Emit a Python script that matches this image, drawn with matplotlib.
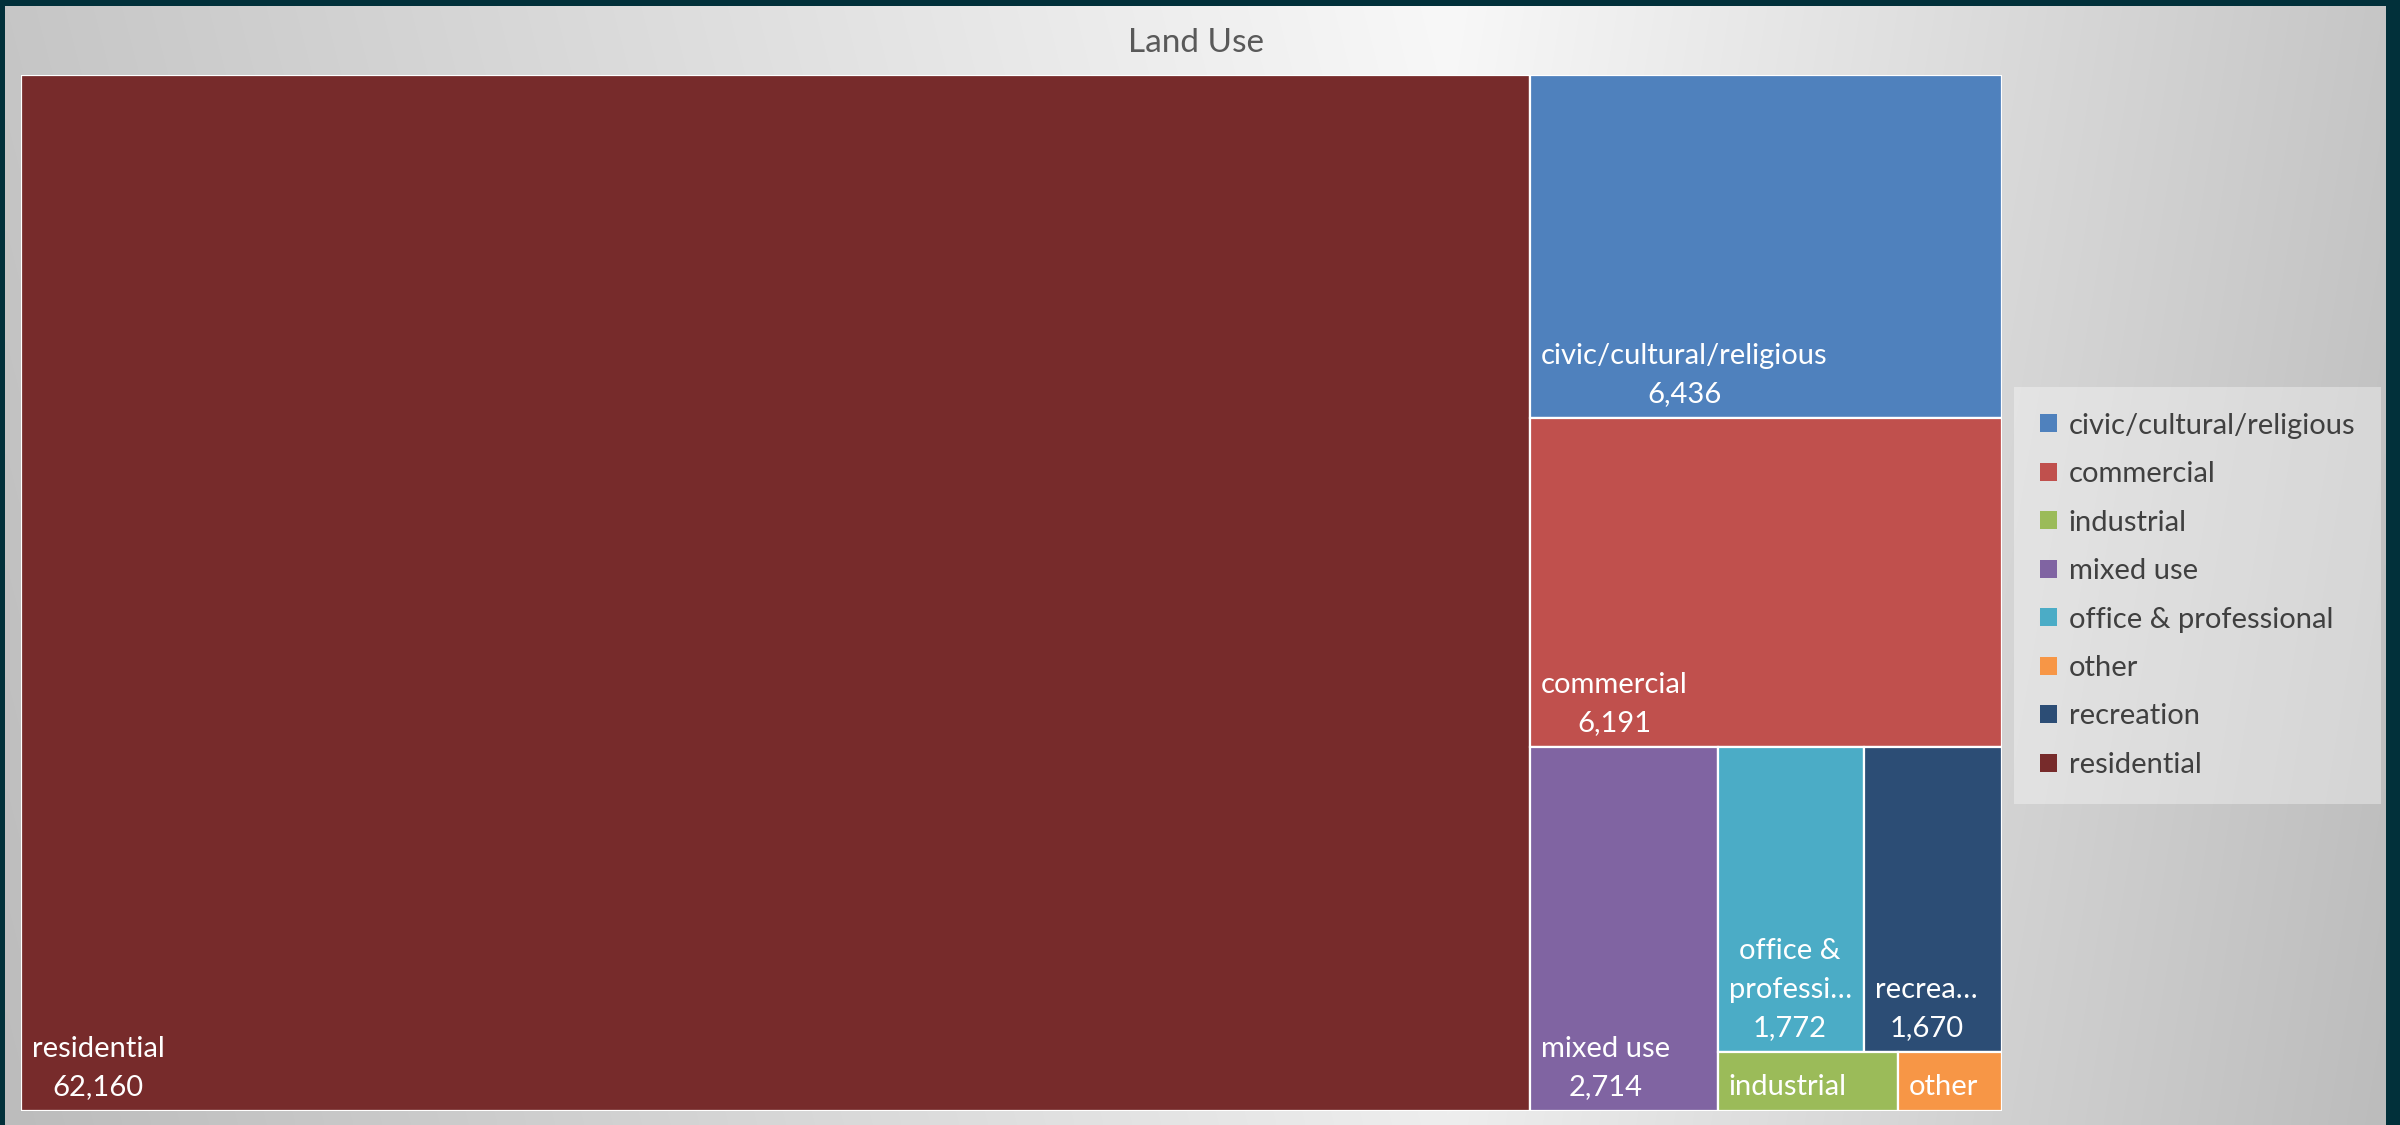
import matplotlib
matplotlib.use('Agg')
import matplotlib.pyplot as plt
from matplotlib.patches import Rectangle, Patch
import numpy as np

plt.rcParams['font.family'] = ['Lato', 'DejaVu Sans']

# land use totals (acres), legend order
categories = ['civic/cultural/religious', 'commercial', 'industrial', 'mixed use',
              'office & professional', 'other', 'recreation', 'residential']
acres = [6436, 6191, 425, 2714, 1772, 245, 1670, 62160]
colors = ['#4F81BD', '#C0504D', '#9BBB59', '#8064A2',
          '#4BACC6', '#F79646', '#2C4D75', '#772B2B']
# names that get cut short inside narrow tiles
tile_names = {'office & professional': 'office &\nprofessi\u2026',
              'recreation': 'recrea\u2026'}
title = 'Land Use'

W, H = 2400, 1125
fig = plt.figure(figsize=(W / 100, H / 100), dpi=100, facecolor='#01303A')

# gray backdrop, brightest towards the upper right
bg = fig.add_axes([5 / W, 0, 2381 / W, 1119 / H])
xs = np.linspace(5, 2386, 600)
ys = np.linspace(0, 1119, 300)
X, Y = np.meshgrid(xs, ys)
peak = 1450.0
shade = np.where(X < peak, 198 + 50 * (X - 5) / (peak - 5),
                 248 - 50 * (X - peak) / (2386 - peak))
shade = shade - 10 * Y / 1119
rgb = np.clip(np.dstack([shade] * 3) / 255.0, 0, 1)
bg.imshow(rgb, extent=(0, 1, 0, 1), aspect='auto', interpolation='bilinear')
bg.set_axis_off()


def layout(values, w, h, rows):
    """Lay groups of values out as strips along the short side of what is left."""
    scale = w * h / float(sum(values))
    x, y = 0.0, 0.0
    rects = []
    i = 0
    for n in rows:
        vals = values[i:i + n]
        i += n
        area = sum(vals) * scale
        if w >= h:
            cw = area / h
            yy = y
            for v in vals:
                hh = v * scale / cw
                rects.append((x, yy, cw, hh))
                yy += hh
            x += cw
            w -= cw
        else:
            rh = area / w
            xx = x
            for v in vals:
                ww = v * scale / rh
                rects.append((xx, y, ww, rh))
                xx += ww
            y += rh
            h -= rh
    return rects


order = sorted(range(len(acres)), key=lambda k: -acres[k])
vals = [acres[k] for k in order]

PW, PH = 1981, 1036
ax = fig.add_axes([21 / W, 1 - 1111 / H, PW / W, PH / H])
ax.set_xlim(0, PW)
ax.set_ylim(PH, 0)
ax.set_axis_off()

rects = layout(vals, PW, PH, [1, 1, 1, 1, 2, 1, 1])
for k, (x0, y0, w, h) in zip(order, rects):
    ax.add_patch(Rectangle((x0, y0), w, h, facecolor=colors[k],
                           edgecolor='white', linewidth=1.6))
    name = tile_names.get(categories[k], categories[k])
    text = name if h < 80 else name + '\n' + '{:,}'.format(acres[k])
    ax.text(x0 + 11, y0 + h - 11, text, ha='left', va='bottom',
            multialignment='center', color='white', fontsize=21,
            linespacing=1.58)

fig.text(1196 / W, 1 - 43 / H, title, ha='center', va='center',
         fontsize=24, color='#595959')

handles = [Patch(facecolor=c, edgecolor='none') for c in colors]
leg = fig.legend(handles, categories, loc='upper left',
                 bbox_to_anchor=(2014 / W, 1 - 387 / H), borderaxespad=0,
                 fontsize=21, frameon=True, fancybox=False,
                 handlelength=0.58, handleheight=0.58, handletextpad=0.42,
                 labelspacing=0.77, borderpad=0.88)
leg.get_frame().set_facecolor('white')
leg.get_frame().set_alpha(0.35)
leg.get_frame().set_linewidth(0)
for t in leg.get_texts():
    t.set_color('#404040')

fig.savefig('out.png', dpi=100, facecolor=fig.get_facecolor())
